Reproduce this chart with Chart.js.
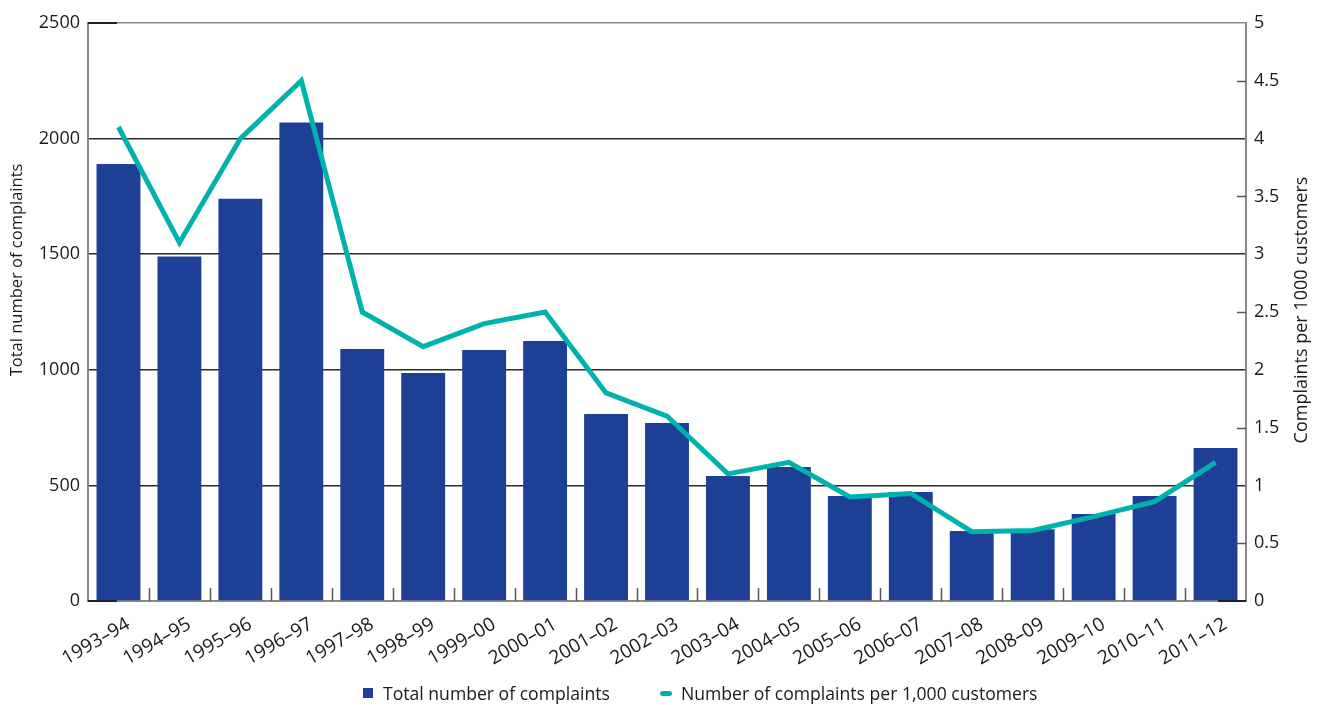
<!DOCTYPE html>
<html>
<head>
<meta charset="utf-8">
<script src="https://cdn.jsdelivr.net/npm/chart.js@4/dist/chart.umd.min.js"></script>
<style>
    html, body { margin: 0; padding: 0; background: #fff; }
    #wrap { position: relative; width: 1325px; height: 705px; font-family: "Open Sans", sans-serif; }
    .item { position: absolute; top: 681px; display: flex; align-items: center; font-size: 17.6px; color: #1a1a1a; white-space: nowrap; }
    .sq { width: 10px; height: 10px; background: #1e3f96; margin-right: 10px; }
    .ln { width: 12px; height: 5px; border-radius: 3px; background: #00b2ae; margin-right: 9px; }
</style>
</head>
<body>
<div id="wrap">
    <canvas id="chart" width="1325" height="705"></canvas>
    <div class="item" style="left:363px"><span class="sq"></span><span>Total number of complaints</span></div>
    <div class="item" style="left:660px"><span class="ln"></span><span>Number of complaints per 1,000 customers</span></div>
</div>
<script>
const years = ['1993–94', '1994–95', '1995–96', '1996–97', '1997–98', '1998–99', '1999–00', '2000–01',
    '2001–02', '2002–03', '2003–04', '2004–05', '2005–06', '2006–07', '2007–08', '2008–09', '2009–10',
    '2010–11', '2011–12'];
const totalComplaints = [1890, 1490, 1740, 2070, 1090, 986, 1086, 1125, 809, 770, 541, 580, 454, 471, 303, 310, 376, 454, 662];
const perThousand = [4.1, 3.1, 4.0, 4.5, 2.5, 2.2, 2.4, 2.5, 1.8, 1.6, 1.1, 1.2, 0.9, 0.93, 0.6, 0.61, 0.73, 0.86, 1.2];
const leftTitle = 'Total number of complaints';
const rightTitle = 'Complaints per 1000 customers';

const FONT = '"Open Sans", sans-serif';

// small inward ticks + rotated axis titles
const decorations = {
    id: 'decorations',
    afterDraw(chart) {
        const ctx = chart.ctx;
        const x = chart.scales.x;
        const y1 = chart.scales.y1;
        const area = chart.chartArea;
        ctx.save();
        ctx.strokeStyle = '#555';
        ctx.lineWidth = 1.5;
        const step = x.getPixelForValue(1) - x.getPixelForValue(0);
        for (let i = 1; i < years.length; i++) {
            const px = Math.round(x.getPixelForValue(i) - step / 2) + 0.5;
            ctx.beginPath();
            ctx.moveTo(px, area.bottom);
            ctx.lineTo(px, area.bottom - 13);
            ctx.stroke();
        }
        for (let v = 0.5; v < 5; v += 1) {
            const py = Math.round(y1.getPixelForValue(v)) + 0.5;
            ctx.beginPath();
            ctx.moveTo(area.right, py);
            ctx.lineTo(area.right - 9, py);
            ctx.stroke();
        }
        // darker corner stubs on the frame
        ctx.strokeStyle = '#222';
        ctx.lineWidth = 2;
        ctx.beginPath();
        ctx.moveTo(area.left, area.top); ctx.lineTo(area.left + 29, area.top);
        ctx.moveTo(area.left, area.bottom); ctx.lineTo(area.left + 29, area.bottom);
        ctx.moveTo(area.right - 28, area.bottom); ctx.lineTo(area.right, area.bottom);
        ctx.stroke();

        ctx.fillStyle = '#1a1a1a';
        ctx.textAlign = 'center';
        ctx.textBaseline = 'middle';
        ctx.font = '16.5px ' + FONT;
        ctx.translate(17, 270);
        ctx.rotate(-Math.PI / 2);
        ctx.fillText(leftTitle, 0, 0);
        ctx.restore();
        ctx.save();
        ctx.fillStyle = '#1a1a1a';
        ctx.textAlign = 'center';
        ctx.textBaseline = 'middle';
        ctx.font = '18px ' + FONT;
        ctx.translate(1302, 310);
        ctx.rotate(-Math.PI / 2);
        ctx.fillText(rightTitle, 0, 0);
        ctx.restore();
    }
};

new Chart(document.getElementById('chart'), {
    data: {
        labels: years,
        datasets: [
            {
                type: 'line',
                label: 'Number of complaints per 1,000 customers',
                data: perThousand,
                yAxisID: 'y1',
                borderColor: '#00b2ae',
                borderWidth: 5,
                pointRadius: 0,
                tension: 0,
                borderCapStyle: 'butt',
                borderJoinStyle: 'miter',
                order: 0
            },
            {
                type: 'bar',
                label: 'Total number of complaints',
                data: totalComplaints,
                yAxisID: 'y',
                backgroundColor: '#1e3f96',
                barPercentage: 0.72,
                categoryPercentage: 1,
                order: 1
            }
        ]
    },
    options: {
        responsive: false,
        animation: false,
        layout: { padding: { top: 23, left: 0, right: 0, bottom: 0 } },
        plugins: {
            legend: { display: false },
            tooltip: { enabled: false }
        },
        scales: {
            x: {
                grid: { display: false },
                border: { color: '#888', width: 2 },
                ticks: {
                    color: '#1a1a1a',
                    font: { family: FONT, size: 19 },
                    minRotation: 30,
                    maxRotation: 30,
                    labelOffset: 10,
                    padding: 4,
                    autoSkip: false
                },
                afterFit: scale => { scale.height = 104; }
            },
            y: {
                position: 'left',
                min: 0,
                max: 2500,
                ticks: {
                    stepSize: 500,
                    color: '#1a1a1a',
                    font: { family: FONT, size: 18 },
                    padding: 8,
                    callback: v => String(v)
                },
                grid: {
                    drawTicks: false,
                    lineWidth: 1.5,
                    color: c => c.tick.value === 2500 ? '#888' : (c.tick.value === 0 ? 'rgba(0,0,0,0)' : '#2a2a2a')
                },
                border: { color: '#888', width: 2 },
                afterFit: scale => { scale.width = 88; }
            },
            y1: {
                position: 'right',
                min: 0,
                max: 5,
                ticks: {
                    stepSize: 0.5,
                    color: '#1a1a1a',
                    font: { family: FONT, size: 18 },
                    padding: 8,
                    callback: v => String(v)
                },
                grid: { drawOnChartArea: false, drawTicks: false },
                border: { color: '#888', width: 2 },
                afterFit: scale => { scale.width = 79; }
            }
        }
    },
    plugins: [decorations]
});
</script>
</body>
</html>
